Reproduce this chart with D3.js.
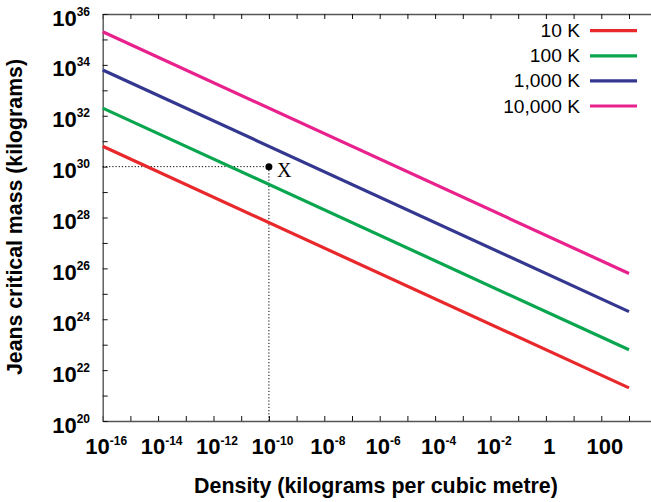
<!DOCTYPE html>
<html>
<head>
<meta charset="utf-8">
<script src="https://cdn.jsdelivr.net/npm/d3@7"></script>
<style>
body { margin: 0; background: #fff; }
text { font-family: "Liberation Sans", Arial, sans-serif; }
</style>
</head>
<body>
<svg id="chart" width="651" height="502"></svg>
<script>
// line end points (density in kg/m^3, mass in kg)
const density = [1e-16, 1e3];
const temps = ["10 K", "100 K", "1,000 K", "10,000 K"];
const mass10 = [6.3e30, 2.0e21];
const mass100 = [2.0e32, 6.3e22];
const mass1000 = [6.3e33, 2.0e24];
const mass10000 = [2.0e35, 6.3e25];
const colors = ["#e8282b", "#0aa64f", "#33378f", "#e8218d"];

// marked point X
const pointX = {rho: 1e-10, m: 1e30, label: "X"};

// tick labels
const xLabelVals = [1e-16, 1e-14, 1e-12, 1e-10, 1e-8, 1e-6, 1e-4, 1e-2, 1, 100];
const xLabelBase = ["10", "10", "10", "10", "10", "10", "10", "10", "1", "100"];
const xLabelSup = ["-16", "-14", "-12", "-10", "-8", "-6", "-4", "-2", "", ""];
const yLabelVals = [1e20, 1e22, 1e24, 1e26, 1e28, 1e30, 1e32, 1e34, 1e36];
const yLabelSup = ["20", "22", "24", "26", "28", "30", "32", "34", "36"];

const svg = d3.select("#chart");

const x = d3.scaleLog().domain([1e-16, 1e4]).range([102.7, 656.7]);
const y = d3.scaleLog().domain([1e20, 1e36]).range([421, 14]);

const xTicks = d3.range(-16, 5).map(e => Math.pow(10, e));
const yTicks = d3.range(20, 37).map(e => Math.pow(10, e));

const styleAxis = g => {
	g.select(".domain").attr("stroke", "#555").attr("stroke-width", 1.4);
	g.selectAll(".tick line").attr("stroke", "#111").attr("stroke-width", 1);
};

svg.append("g").attr("transform", `translate(0,${y(1e20)})`)
	.call(d3.axisBottom(x).tickValues(xTicks).tickSizeInner(-5).tickSizeOuter(0).tickFormat(""))
	.call(styleAxis);
svg.append("g").attr("transform", `translate(0,${y(1e36)})`)
	.call(d3.axisTop(x).tickValues(xTicks).tickSizeInner(-5).tickSizeOuter(0).tickFormat(""))
	.call(styleAxis);
svg.append("g").attr("transform", `translate(${x(1e-16)},0)`)
	.call(d3.axisLeft(y).tickValues(yTicks).tickSizeInner(-5).tickSizeOuter(0).tickFormat(""))
	.call(styleAxis);
svg.append("g").attr("transform", `translate(${x(1e4)},0)`)
	.call(d3.axisRight(y).tickValues(yTicks).tickSizeInner(-5).tickSizeOuter(0).tickFormat(""))
	.call(styleAxis);

// x tick labels
const xl = svg.append("g").selectAll("text").data(xLabelVals).join("text")
	.attr("x", d => x(d) + 3.5)
	.attr("y", 454)
	.attr("text-anchor", "middle")
	.attr("font-weight", "bold")
	.attr("font-size", 22);
xl.append("tspan").text((d, i) => xLabelBase[i]);
xl.append("tspan").attr("font-size", 12).attr("dy", -9).text((d, i) => xLabelSup[i]);

// y tick labels
const yl = svg.append("g").selectAll("text").data(yLabelVals).join("text")
	.attr("x", 90)
	.attr("y", d => y(d) + 11.5)
	.attr("text-anchor", "end")
	.attr("font-weight", "bold")
	.attr("font-size", 22);
yl.append("tspan").text("10");
yl.append("tspan").attr("font-size", 12).attr("dy", -10).text((d, i) => yLabelSup[i]);

// axis titles
svg.append("text")
	.attr("x", 376).attr("y", 493)
	.attr("text-anchor", "middle")
	.attr("font-weight", "bold").attr("font-size", 21.4)
	.text("Density (kilograms per cubic metre)");
svg.append("text")
	.attr("transform", "translate(22,217) rotate(-90)")
	.attr("text-anchor", "middle")
	.attr("font-weight", "bold").attr("font-size", 21.3)
	.text("Jeans critical mass (kilograms)");

// dotted guides to X
const guide = d3.line().x(d => x(d[0])).y(d => y(d[1]));
svg.append("path")
	.attr("d", guide([[1e-16, pointX.m], [pointX.rho, pointX.m], [pointX.rho, 1e20]]))
	.attr("fill", "none").attr("stroke", "#000").attr("stroke-width", 1)
	.attr("stroke-dasharray", "1.2,2");

// series
const series = [mass10, mass100, mass1000, mass10000];
const line = d3.line().x(d => x(d.rho)).y(d => y(d.m));
svg.append("g").selectAll("path").data(series).join("path")
	.attr("d", s => line(s.map((m, i) => ({rho: density[i], m}))))
	.attr("fill", "none")
	.attr("stroke", (d, i) => colors[i])
	.attr("stroke-width", 3.2);

// point X
svg.append("circle")
	.attr("cx", x(pointX.rho)).attr("cy", y(pointX.m)).attr("r", 3.5)
	.attr("fill", "#000");
svg.append("text")
	.attr("x", x(pointX.rho) + 8).attr("y", y(pointX.m) + 10)
	.style("font-family", "'Liberation Serif', 'Times New Roman', serif")
	.attr("font-size", 20)
	.text(pointX.label);

// legend
const leg = svg.append("g").selectAll("g").data(temps).join("g")
	.attr("transform", (d, i) => `translate(0,${30.7 + i * 25.1})`);
leg.append("text")
	.attr("x", 580).attr("y", 6.5)
	.attr("text-anchor", "end")
	.attr("font-size", 19.2)
	.text(d => d);
leg.append("line")
	.attr("x1", 590).attr("x2", 637)
	.attr("stroke", (d, i) => colors[i])
	.attr("stroke-width", 3.2);
</script>
</body>
</html>
